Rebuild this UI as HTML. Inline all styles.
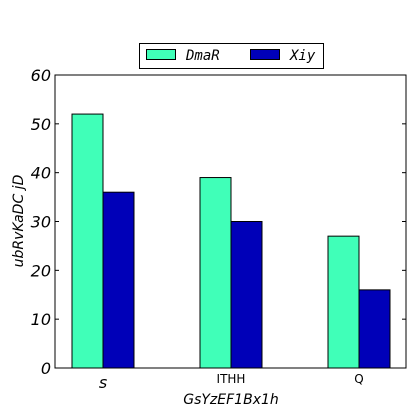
<!DOCTYPE html>
<html><head><meta charset="utf-8"><style>
html,body{margin:0;padding:0;background:#fff;width:420px;height:420px;overflow:hidden}
svg{display:block}
svg text{font-family:"DejaVu Sans","Liberation Sans",sans-serif}
svg text.mono{font-family:"DejaVu Sans Mono","Liberation Mono",monospace}
</style></head><body>
<svg width="420" height="420" xmlns="http://www.w3.org/2000/svg">
</svg>
<script>
const categories=["s","ITHH","Q"];
const seriesNames=["DmaR","Xiy"];
const dmar=[52,39,27];
const xiy=[36,30,16];
const yTicks=[0,10,20,30,40,50,60];
const colors=["#40ffb8","#0000b8"];
const L=55,R=406,T=75,B=368,ymax=60;
const y=v=>B-(v/ymax)*(B-T);
const gx=i=>103+i*128;
const NS="http://www.w3.org/2000/svg";
const svg=document.querySelector("svg");
function mk(tag,attrs,parent){const e=document.createElementNS(NS,tag);for(const k in attrs)e.setAttribute(k,attrs[k]);(parent||svg).appendChild(e);return e;}
const series=[dmar,xiy];
series.forEach((s,si)=>{s.forEach((v,i)=>{
 const r=mk("rect",{x:gx(i)-31+si*31,y:y(v),width:31,height:B-y(v),fill:colors[si],stroke:"#000","stroke-width":1});
 
 
});});
const frame=mk("rect",{x:L,y:T,width:R-L,height:B-T,fill:"none",stroke:"#000","stroke-width":1});


yTicks.forEach(t=>{
 mk("line",{x1:L,x2:L+4,y1:y(t),y2:y(t),stroke:"#000"});
 mk("line",{x1:R,x2:R-4,y1:y(t),y2:y(t),stroke:"#000"});
 const tx=mk("text",{x:L-4,y:y(t)+6,"text-anchor":"end","font-size":16,"font-style":"italic"});
 tx.textContent=t;
 
 
});
categories.forEach((c,i)=>{
 mk("line",{x1:gx(i),x2:gx(i),y1:B,y2:B-4,stroke:"#000"});
 const big=i===0;
 const tx=mk("text",{x:gx(i),y:big?388:383,"text-anchor":"middle","font-size":big?16:12,"font-style":big?"italic":"normal"});
 tx.textContent=c;
 
 
});
const xt=mk("text",{x:231,y:404,"text-anchor":"middle","font-size":14,"font-style":"italic"});
xt.textContent="GsYzEF1Bx1h";


const yt=mk("text",{x:0,y:0,"text-anchor":"middle","font-size":14,"font-style":"italic",transform:"translate(23,221) rotate(-90)"});
yt.textContent="ubRvKaDC jD";


const lg=mk("g",{});


mk("rect",{x:139.5,y:43.5,width:184,height:25,fill:"#fff",stroke:"#000"},lg);
seriesNames.forEach((n,i)=>{
 const px=146+i*104;
 const p=mk("rect",{x:px+0.5,y:49.5,width:29,height:10,fill:colors[i],stroke:"#000"},lg);
 
 
 const t=mk("text",{x:px+40,y:60,"font-size":14,"font-style":"italic","class":"mono"},lg);
 t.textContent=n;
 
 
});
</script>
</body></html>
